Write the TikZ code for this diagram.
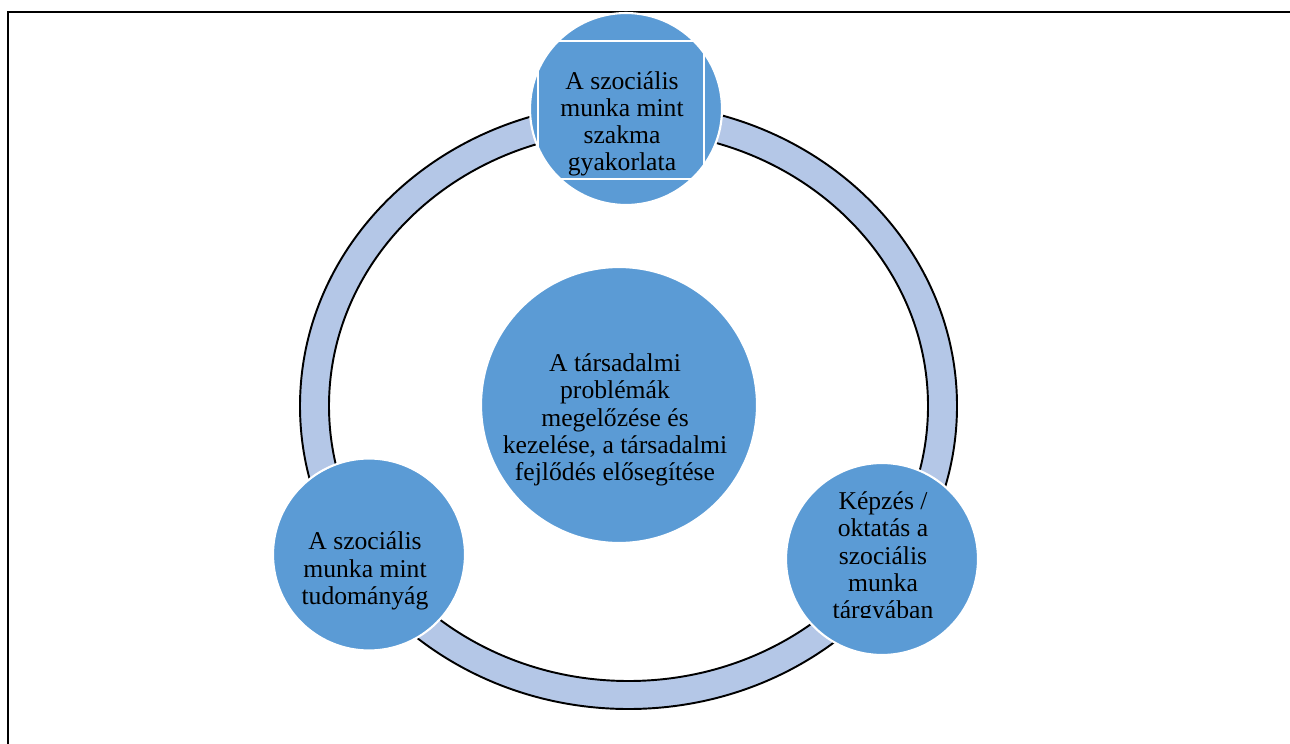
\documentclass[tikz,border=0pt]{standalone}
\usepackage{fontspec}
\setmainfont{Liberation Serif}
\definecolor{bubbleblue}{HTML}{5B9BD5}
\definecolor{ringblue}{HTML}{B4C7E7}
\begin{document}
\begin{tikzpicture}[x=0.02cm,y=-0.02cm]
        \useasboundingbox (0,0) rectangle (1290,743);

        % frame
        \draw[line width=1.7pt] (8,800) -- (8,12) -- (1350,12);

        % ring
        \coordinate (o) at (628.5,406);
        \fill[ringblue, even odd rule] (o) ellipse [x radius=328.5, y radius=303]
                                       (o) ellipse [x radius=299.5, y radius=275];
        \draw[line width=1.1pt] (o) ellipse [x radius=328.5, y radius=303];
        \draw[line width=1.1pt] (o) ellipse [x radius=299.5, y radius=275];

        \begin{scope}[every node/.style={circle, fill=bubbleblue, draw=white, line width=1.2pt, minimum size=3.84cm, inner sep=0pt}]
          \node (hub)      at (619,405) [minimum size=5.52cm] {};
          \node (practice) at (626,109)   {};
          \node (science)  at (369,554.5) {};
          \node (training) at (882,559)   {};
        \end{scope}

        \draw[white, line width=1pt] (538,41) rectangle (704,179);

        \begin{scope}[every node/.style={align=center, text=black, inner sep=0pt, font=\fontsize{14.6}{15.5}\selectfont}]
          \node (hubtext)      at (615,420) {A társadalmi\\problémák\\megelőzése és\\kezelése, a társadalmi\\fejlődés elősegítése};
          \node (practicetext) at (622,124) {A szociális\\munka mint\\szakma\\gyakorlata};
          \node (sciencetext)  at (365,571) {A szociális\\munka mint\\tudományág};
          \begin{scope}
            \clip (786,470) rectangle (978,617);
            \node (trainingtext) at (883,558) {Képzés /\\oktatás a\\szociális\\munka\\tárgyában};
          \end{scope}
        \end{scope}

      \end{tikzpicture}
\end{document}
